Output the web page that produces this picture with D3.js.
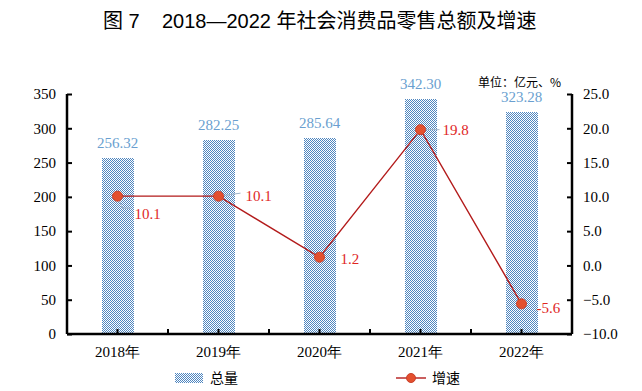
<!DOCTYPE html>
<html>
<head>
<meta charset="utf-8">
<script src="https://cdn.jsdelivr.net/npm/d3@7"></script>
<style>
  body { margin: 0; background: #fff; }
  svg { display: block; }
</style>
</head>
<body>
<div id="chart"></div>
<script>
const years = ["2018年", "2019年", "2020年", "2021年", "2022年"];
const totals = [256.32, 282.25, 285.64, 342.30, 323.28];
const growth = [10.1, 10.1, 1.2, 19.8, -5.6];
const leftTicks = [0, 50, 100, 150, 200, 250, 300, 350];
const rightTicks = [-10, -5, 0, 5, 10, 15, 20, 25];

// where each growth label sits relative to its point, plus leader line
const growthLabelPos = [
  { dx: 17, dy: 18, leader: [[0, 0], [5, 12], [13, 12]] },
  { dx: 27, dy: 0, leader: [[0, 0], [22, -3]] },
  { dx: 21, dy: 2, leader: null },
  { dx: 22, dy: 0, leader: [[0, 0], [19, 0]] },
  { dx: 15, dy: 4, leader: null }
];

const width = 642, height = 391;
const margin = { top: 94, right: 70, bottom: 57, left: 67 };
const serif = "'Liberation Serif', 'Times New Roman', serif";
const cjk = "'Noto Sans CJK SC', sans-serif";

const svg = d3.select("#chart").append("svg")
  .attr("width", width)
  .attr("height", height);

// fine dotted fill, built as a 4x4 tile of alternating pixels
const defs = svg.append("defs");
const pat = defs.append("pattern")
  .attr("id", "dots")
  .attr("width", 4).attr("height", 4)
  .attr("patternUnits", "userSpaceOnUse");
pat.append("rect").attr("width", 4).attr("height", 4).attr("fill", "#fff");
for (let r = 0; r < 4; r++) {
  for (let c = 0; c < 4; c++) {
    if ((r + c) % 2 === 0) {
      pat.append("rect").attr("x", c).attr("y", r).attr("width", 1).attr("height", 1)
        .attr("fill", "#4f86c0").attr("shape-rendering", "crispEdges");
    }
  }
}

const x = d3.scaleBand()
  .domain(years)
  .range([margin.left, width - margin.right]);

const yL = d3.scaleLinear().domain([0, 350]).range([height - margin.bottom, margin.top]);
const yR = d3.scaleLinear().domain([-10, 25]).range([height - margin.bottom, margin.top]);

const barW = 32;

// title
svg.append("text")
  .attr("x", 103).attr("y", 28)
  .attr("font-family", "'Liberation Sans', Arial, " + cjk)
  .attr("font-size", 20)
  .attr("fill", "#000")
  .attr("xml:space", "preserve")
  .text("图 7    2018—2022 年社会消费品零售总额及增速");

svg.append("text")
  .attr("x", 561).attr("y", 87)
  .attr("text-anchor", "end")
  .attr("font-family", cjk)
  .attr("font-size", 12)
  .attr("fill", "#000")
  .text("单位：亿元、%");

// bars
svg.append("g").selectAll("rect")
  .data(totals)
  .join("rect")
  .attr("x", (d, i) => Math.round(x(years[i]) + x.bandwidth() / 2 - barW / 2))
  .attr("y", d => Math.round(yL(d)))
  .attr("width", barW)
  .attr("height", d => Math.round(yL(0)) - Math.round(yL(d)))
  .attr("fill", "url(#dots)")
  .attr("shape-rendering", "crispEdges");

svg.append("g").selectAll("text")
  .data(totals)
  .join("text")
  .attr("x", (d, i) => x(years[i]) + x.bandwidth() / 2)
  .attr("y", d => yL(d) - 10)
  .attr("text-anchor", "middle")
  .attr("font-family", serif)
  .attr("font-size", 15)
  .attr("fill", "#6a9fd0")
  .text(d => d.toFixed(2));

// axes
const leftAxis = d3.axisLeft(yL).tickValues(leftTicks).tickSize(-5).tickPadding(11);
const gL = svg.append("g").attr("transform", `translate(${margin.left},0)`).call(leftAxis);

const rightAxis = d3.axisRight(yR).tickValues(rightTicks).tickSize(-5).tickPadding(11)
  .tickFormat(d3.format(".1f"));
const gR = svg.append("g").attr("transform", `translate(${width - margin.right},0)`).call(rightAxis);

const bottomAxis = d3.axisBottom(x).tickSize(0).tickPadding(12);
const gB = svg.append("g").attr("transform", `translate(0,${height - margin.bottom})`).call(bottomAxis);

[gL, gR, gB].forEach(g => {
  g.select(".domain").attr("stroke", "#000").attr("stroke-width", 2.5);
  g.selectAll(".tick line").attr("stroke", "#000").attr("stroke-width", 2);
  g.selectAll(".tick text")
    .attr("font-family", serif)
    .attr("font-size", 15)
    .attr("fill", "#000");
});
gL.select(".domain").attr("d", `M0,${margin.top}V${height - margin.bottom}`);
gR.select(".domain").attr("d", `M0,${margin.top}V${height - margin.bottom}`);
gB.select(".domain").attr("d", `M${margin.left},0H${width - margin.right}`);

// category ticks on x axis: centers and boundaries, pointing up
const halfSteps = d3.range(years.length * 2 - 1).map(k => margin.left + x.bandwidth() / 2 * (k + 1));
gB.append("g").selectAll("line")
  .data(halfSteps)
  .join("line")
  .attr("x1", d => d).attr("x2", d => d)
  .attr("y1", 0).attr("y2", -5)
  .attr("stroke", "#000").attr("stroke-width", 2);

// growth line
const cx = i => x(years[i]) + x.bandwidth() / 2;
const line = d3.line().x((d, i) => cx(i)).y(d => yR(d));

svg.append("path")
  .datum(growth)
  .attr("d", line)
  .attr("fill", "none")
  .attr("stroke", "#b31b1b")
  .attr("stroke-width", 1.4);

// leader lines
svg.append("g").selectAll("path")
  .data(growth.map((d, i) => ({ d, i })).filter(o => growthLabelPos[o.i].leader))
  .join("path")
  .attr("d", o => d3.line()(growthLabelPos[o.i].leader.map(p => [cx(o.i) + p[0], yR(o.d) + p[1]])))
  .attr("fill", "none")
  .attr("stroke", "#9fb3c8")
  .attr("stroke-width", 1);

svg.append("g").selectAll("circle")
  .data(growth)
  .join("circle")
  .attr("cx", (d, i) => cx(i))
  .attr("cy", d => yR(d))
  .attr("r", 5)
  .attr("fill", "#e4502e")
  .attr("stroke", "#c9402a")
  .attr("stroke-width", 1);

svg.append("g").selectAll("text")
  .data(growth)
  .join("text")
  .attr("x", (d, i) => cx(i) + growthLabelPos[i].dx)
  .attr("y", (d, i) => yR(d) + growthLabelPos[i].dy)
  .attr("dy", "0.35em")
  .attr("font-family", serif)
  .attr("font-size", 15)
  .attr("fill", "#e0261f")
  .text(d => d.toFixed(1));

// legend
const lg = svg.append("g").attr("transform", `translate(0,378)`);
lg.append("rect")
  .attr("x", 175).attr("y", -5)
  .attr("width", 28).attr("height", 10)
  .attr("fill", "url(#dots)")
  .attr("shape-rendering", "crispEdges");
lg.append("text")
  .attr("x", 210).attr("y", 0).attr("dy", "0.35em")
  .attr("font-family", cjk).attr("font-size", 14)
  .text("总量");

lg.append("line")
  .attr("x1", 396).attr("x2", 426)
  .attr("y1", 0).attr("y2", 0)
  .attr("stroke", "#b31b1b").attr("stroke-width", 1.4);
lg.append("circle")
  .attr("cx", 411).attr("cy", 0).attr("r", 4.5)
  .attr("fill", "#e4502e").attr("stroke", "#c9402a");
lg.append("text")
  .attr("x", 432).attr("y", 0).attr("dy", "0.35em")
  .attr("font-family", cjk).attr("font-size", 14)
  .text("增速");
</script>
</body>
</html>
